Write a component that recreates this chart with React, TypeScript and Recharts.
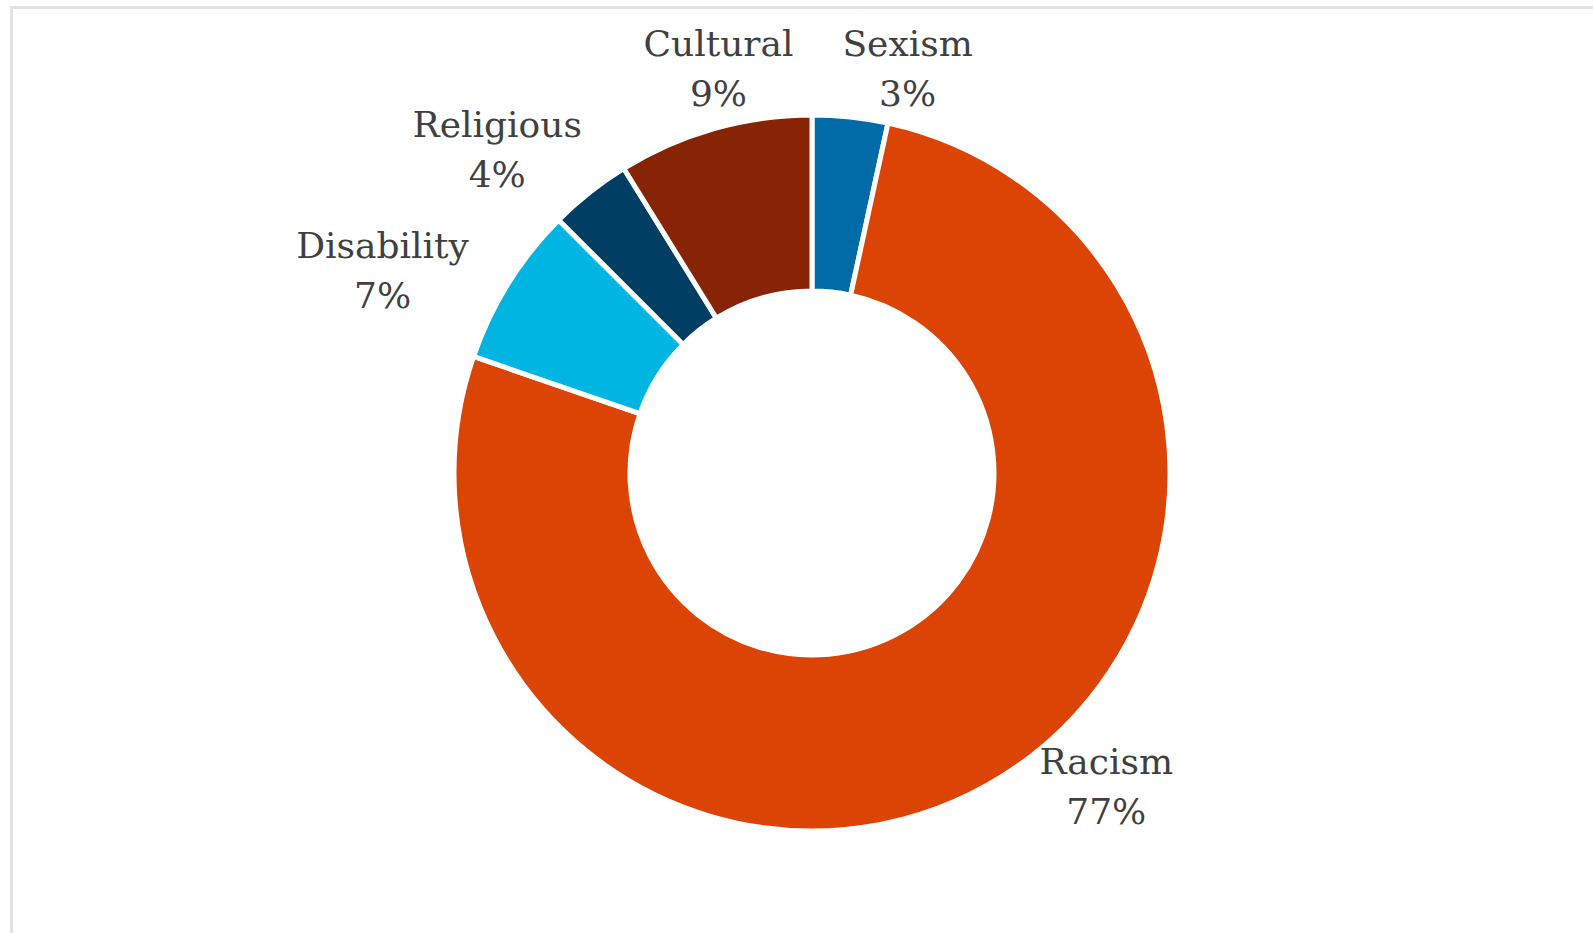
import React from "react";
import { PieChart, Pie, Cell } from "recharts";

const categories = ["Sexism", "Racism", "Disability", "Religious", "Cultural"];
const shares = [3.4, 76.8, 7.2, 3.7, 8.8];
const colors = ["#006BA6", "#DC4405", "#00B5E2", "#003F63", "#862405"];

// label placement (polar, clockwise from top, distance as multiple of outer radius)
const labelAngles = [13.7, 137.9, -66.1, -45.3, -13.4];
const labelDists = [1.128, 1.226, 1.312, 1.237, 1.127];

const data = categories.map((name, i) => ({ name, value: shares[i] }));

const W = 1593;
const H = 933;

const renderLabel = (props: any) => {
  const { cx, cy, outerRadius, index, name, value } = props;
  const a = (labelAngles[index] * Math.PI) / 180;
  const r = outerRadius * labelDists[index];
  const x = cx + r * Math.sin(a);
  const y = cy - r * Math.cos(a);
  return (
    <text
      x={x}
      y={y}
      textAnchor="middle"
      fill="#404040"
      fontFamily="'DejaVu Serif', serif"
      fontSize={36}
    >
      <tspan x={x} y={y - 25}>
        {name}
      </tspan>
      <tspan x={x} y={y + 25}>
        {Math.round(value)}%
      </tspan>
    </text>
  );
};

export default function App() {
  return (
    <div
      style={{
        position: "fixed",
        left: 0,
        top: 0,
        width: W,
        height: H,
        overflow: "hidden",
        background: "#fff",
      }}
    >
      <div
        style={{
          position: "absolute",
          left: 10,
          top: 6,
          width: W + 20,
          height: H + 20,
          border: "3px solid #e2e2e2",
          boxSizing: "border-box",
        }}
      />
      <div style={{ position: "absolute", left: 0, top: 0 }}>
        <PieChart width={W} height={H} margin={{ top: 0, right: 0, bottom: 0, left: 0 }}>
          <Pie
            data={data}
            dataKey="value"
            nameKey="name"
            cx={812}
            cy={473}
            innerRadius={182}
            outerRadius={358}
            startAngle={90}
            endAngle={-270}
            stroke="#ffffff"
            strokeWidth={5}
            label={renderLabel}
            labelLine={false}
            isAnimationActive={false}
          >
            {data.map((d, i) => (
              <Cell key={d.name} fill={colors[i]} />
            ))}
          </Pie>
        </PieChart>
      </div>
    </div>
  );
}
